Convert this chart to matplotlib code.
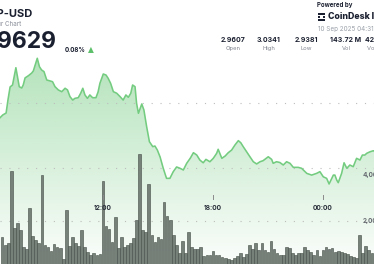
import numpy as np
import pandas as pd
import matplotlib
matplotlib.use("Agg")
import matplotlib.pyplot as plt
import matplotlib.dates as mdates
from matplotlib.patches import Rectangle

plt.rcParams['font.family'] = ['Inter', 'DejaVu Sans']

# price line: minutes after 09 Sep 2025 12:00, price in USD
price_min = [-337, -328, -317, -311, -304, -296, -285, -274, -266, -261,
             -255, -244, -233, -228, -215, -208, -201, -193, -184, -173,
             -165, -157, -146, -135, -124, -116, -108, -99, -92, -81,
             -73, -66, -59, -51, -43, -34, -23, -16, -10, 1,
             10, 17, 25, 34, 45, 56, 66, 75, 83, 91,
             97, 105, 110, 116, 127, 134, 143, 152, 163, 170,
             178, 187, 197, 208, 219, 230, 241, 252, 263, 274,
             286, 296, 307, 317, 328, 337, 350, 361, 372, 377,
             389, 400, 410, 421, 432, 443, 451, 459, 470, 481,
             492, 503, 514, 524, 541, 552, 557, 568, 579, 590,
             601, 612, 623, 639, 650, 667, 683, 699, 710, 721,
             732, 740, 749, 754, 759, 765, 770, 781, 789, 798,
             808, 819, 830, 841, 849, 857, 863, 874, 885, 893]
price_val = [2.9887, 2.9908, 2.9923, 3.0022, 3.0122, 3.0137, 3.0269, 3.0124, 3.0114, 3.0137,
             3.0191, 3.0208, 3.0229, 3.0244, 3.0341, 3.0277, 3.0252, 3.0239, 3.0175, 3.0168,
             3.0162, 3.0124, 3.0099, 3.0086, 3.0112, 3.0099, 3.0048, 3.0022, 3.0035, 3.0040,
             3.0074, 3.0112, 3.0061, 3.0035, 3.0061, 3.0040, 3.0040, 3.0084, 3.0150, 3.0221,
             3.0213, 3.0188, 3.0150, 3.0086, 3.0074, 3.0048, 3.0022, 3.0061, 3.0043, 3.0074,
             3.0137, 3.0124, 2.9997, 2.9921, 2.9992, 2.9946, 2.9818, 2.9704, 2.9666, 2.9671,
             2.9640, 2.9587, 2.9503, 2.9424, 2.9424, 2.9475, 2.9511, 2.9501, 2.9488, 2.9539,
             2.9579, 2.9620, 2.9602, 2.9564, 2.9543, 2.9569, 2.9551, 2.9577, 2.9615, 2.9646,
             2.9577, 2.9595, 2.9620, 2.9640, 2.9679, 2.9712, 2.9696, 2.9666, 2.9627, 2.9589,
             2.9551, 2.9534, 2.9551, 2.9559, 2.9589, 2.9569, 2.9539, 2.9551, 2.9545, 2.9526,
             2.9551, 2.9539, 2.9508, 2.9508, 2.9501, 2.9462, 2.9449, 2.9462, 2.9475, 2.9436,
             2.9424, 2.9381, 2.9424, 2.9449, 2.9449, 2.9411, 2.9391, 2.9462, 2.9543, 2.9501,
             2.9526, 2.9513, 2.9577, 2.9564, 2.9602, 2.9602, 2.9615, 2.9627, 2.9635, 2.9625]

# 10 minute volume bars from 06:30
vol_start = "2025-09-09 06:30"
volumes = [1320, 960, 1030, 4190, 1680, 1900, 1610, 880, 770, 2550,
           1350, 1170, 1030, 4000, 960, 880, 710, 1000, 860, 810,
           340, 2460, 910, 1290, 1060, 910, 1610, 880, 670, 520,
           620, 520, 570, 3750, 1780, 1640, 1100, 2190, 810, 1300,
           850, 960, 1030, 1250, 2030, 4920, 1610, 1540, 3590, 1390,
           1100, 1300, 1200, 2810, 2210, 2040, 1390, 960, 610, 1120,
           610, 1510, 880, 780, 770, 880, 470, 540, 510, 700,
           500, 520, 440, 400, 350, 300, 400, 480, 600, 440,
           570, 960, 770, 1060, 740, 1030, 740, 670, 1120, 770,
           600, 520, 520, 860, 810, 600, 520, 600, 600, 880,
           740, 670, 510, 740, 480, 740, 880, 770, 810, 670,
           700, 670, 620, 570, 480, 420, 380, 1390, 600, 910,
           740, 620, 600]

stat_values = ["2.9607", "3.0341", "2.9381", "143.72 M", "424.51 M"]
stat_labels = ["Open", "High", "Low", "Vol", "Vol (USD)"]
time_ticks = ["2025-09-09 12:00", "2025-09-09 18:00", "2025-09-10 00:00"]
time_labels = ["12:00", "18:00", "00:00"]
vol_ticks = [4000, 2000]

base = pd.Timestamp("2025-09-09 12:00")
t_price = base + pd.to_timedelta(price_min, unit="min")
t_vol = pd.date_range(vol_start, periods=len(volumes), freq="10min")

W, H = 374, 264
fig = plt.figure(figsize=(W / 100, H / 100), dpi=100)
fig.patch.set_facecolor("white")
ax = fig.add_axes([0, 0, 1, 1])
axv = ax.twinx()

x0 = base - pd.Timedelta(minutes=337)
x1 = base + pd.Timedelta(minutes=887)
ylo, yhi = 2.8770, 3.0786

# gradient area under the price line
poly = ax.fill_between(t_price, price_val, ylo, color="none", lw=0)
grad = np.zeros((256, 1, 4))
grad[:, 0, 0] = 0.47
grad[:, 0, 1] = 0.80
grad[:, 0, 2] = 0.52
grad[:, 0, 3] = np.linspace(0.55, 0.03, 256)
xn = mdates.date2num([t_price[0], t_price[-1]])
im = ax.imshow(grad, extent=[xn[0], xn[1], ylo, max(price_val)],
               aspect="auto", origin="upper", zorder=1, interpolation="bilinear")
im.set_clip_path(poly.get_paths()[0], transform=ax.transData)

ax.plot(t_price, price_val, color="#74cc80", lw=1.15, zorder=3,
        solid_joinstyle="round")
for p in [3.00, 2.95]:
    ax.axhline(p, color="#bdbdbd", lw=0.8, ls=(0, (1, 7)), zorder=2)
ax.set_xlim(x0, x1)
ax.set_ylim(ylo, yhi)
ax.set_axis_off()

# volume bars
axv.axhline(2000, color="#bdbdbd", lw=0.8, ls=(0, (1, 7)), zorder=1)
axv.bar(t_vol, volumes, width=8.9 / 1440, color="#76817a",
        edgecolor="#434b45", lw=0.4, zorder=2)
axv.set_xlim(x0, x1)
axv.set_ylim(130, 11609)
axv.set_axis_off()

for v in vol_ticks:
    axv.text(362.5 / W, v, f"{v:,}", transform=axv.get_yaxis_transform(),
             ha="left", va="center", fontsize=4.6, color="#666a70",
             fontweight="bold", zorder=10)

for t, lab in zip(time_ticks, time_labels):
    tt = pd.Timestamp(t)
    axv.plot([tt, tt], [1 - 195 / H, 1 - 198.5 / H], color="#8a8a8a", lw=0.7,
             transform=axv.get_xaxis_transform(), zorder=9)
    axv.text(tt, 1 - 208 / H, lab, transform=axv.get_xaxis_transform(),
             ha="center", va="center", fontsize=4.8, color="#2a2f3a",
             fontweight="bold", zorder=10)


def ftext(x, y, s, **kw):
    fig.text(x / W, 1 - y / H, s, **kw)


dark = "#1b2030"
ftext(33, 14, "XRP-USD", ha="right", va="center", fontsize=8, fontweight="bold", color=dark)
ftext(21, 24, "24 Hour Chart", ha="right", va="center", fontsize=4.5, color="#8a8f99")
ftext(57, 41.5, "2.9629", ha="right", va="center", fontsize=16.5, fontweight="bold", color=dark)
ftext(65, 50, "0.08%", ha="left", va="center", fontsize=4.5, fontweight="bold", color=dark)
ftext(91, 49.5, "\u25b2", ha="center", va="center", fontsize=5.5, color="#5cbf6a",
      family="DejaVu Sans")

ftext(317, 5, "Powered by", ha="left", va="center", fontsize=4.4, fontweight="bold", color=dark)
for i, j in [(0, 0), (0, 1), (0, 2), (1, 0), (2, 0), (1, 2), (2, 2), (2, 1)]:
    fig.patches.append(Rectangle(((317.5 + i * 2.8) / W, 1 - (13 + j * 2.8 + 2.2) / H),
                                 2.2 / W, 2.2 / H, transform=fig.transFigure,
                                 facecolor=dark, lw=0))
ftext(328.5, 16.5, "CoinDesk Indices", ha="left", va="center", fontsize=6.3,
      fontweight="heavy", color=dark)
ftext(318, 29, "10 Sep 2025 04:31", ha="left", va="center", fontsize=4.6, color="#9aa0a8")

centers = [233.5, 269, 306, 346, 381]
for cx, val, lab in zip(centers, stat_values, stat_labels):
    ftext(cx, 40, val, ha="center", va="center", fontsize=5, fontweight="bold", color=dark)
    ftext(cx, 48.5, lab, ha="center", va="center", fontsize=4.2, color="#80858f")

fig.savefig("out.png", dpi=100)
